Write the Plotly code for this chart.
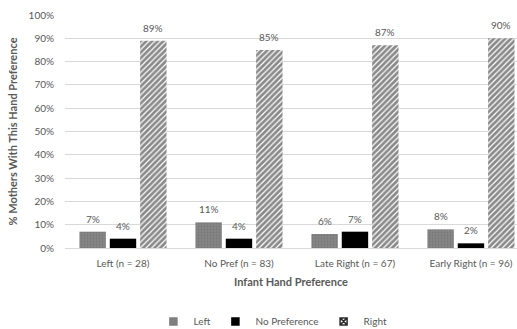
import plotly.graph_objects as go

# Infant hand preference groups (x categories)
categories = ["Left (n = 28)", "No Pref (n = 83)", "Late Right (n = 67)", "Early Right (n = 96)"]

# Percentage of mothers with each hand preference, per infant group
left_pct = [7, 11, 6, 8]
nopref_pct = [4, 4, 7, 2]
right_pct = [89, 85, 87, 90]

FONT = "Lato, 'Open Sans', sans-serif"
LABEL_GRAY = "#595959"

WIDTH, HEIGHT = 517, 329
MARGIN = dict(l=65, r=0, t=15, b=81)
X_RANGE = [-0.5, 3.397]
BARGAP, BARGROUPGAP = 0.215, 0.13

LEFT_MARKER = dict(color="#7f7f7f", line=dict(width=0),
                   pattern=dict(shape=".", size=3, solidity=0.3,
                                fgcolor="#6a6a6a", bgcolor="#858585"))
NOPREF_MARKER = dict(color="#000000", line=dict(width=0))
RIGHT_MARKER = dict(color="white", line=dict(width=0),
                    pattern=dict(shape="/", size=4, solidity=0.7,
                                 fgcolor="#141414", bgcolor="white"))

series = [("Left", left_pct, LEFT_MARKER),
          ("No Preference", nopref_pct, NOPREF_MARKER),
          ("Right", right_pct, RIGHT_MARKER)]

fig = go.Figure()
for name, vals, marker in series:
    fig.add_trace(go.Bar(name=name, x=categories, y=vals, marker=marker, showlegend=False))

# value labels floating above each bar; horizontal offset of each bar within its group
cat_px = (WIDTH - MARGIN["l"] - MARGIN["r"]) / (X_RANGE[1] - X_RANGE[0])
slot_px = cat_px * (1 - BARGAP) / len(series)
for i, (name, vals, _) in enumerate(series):
    dx = (i - (len(series) - 1) / 2) * slot_px
    for cat, v in zip(categories, vals):
        fig.add_annotation(x=cat, y=v, text=f"{v}%", showarrow=False,
                           xshift=dx, yshift=13, yanchor="middle",
                           font=dict(family=FONT, size=10, color=LABEL_GRAY))

# compact square legend keys
for name, col, sym in [("Left", "#7f7f7f", "square"),
                       ("No Preference", "#000000", "square"),
                       ("Right", "#2a2a2a", "square-x-open")]:
    fig.add_trace(go.Scatter(x=[None], y=[None], mode="markers", name=name,
                             marker=dict(symbol=sym, size=7, color=col,
                                         line=dict(width=1.5, color=col))))

fig.update_layout(
    width=WIDTH, height=HEIGHT,
    margin=dict(**MARGIN, autoexpand=False),
    paper_bgcolor="white", plot_bgcolor="white",
    barmode="group", bargap=BARGAP, bargroupgap=BARGROUPGAP,
    font=dict(family=FONT, size=10, color=LABEL_GRAY),
    showlegend=True,
    legend=dict(orientation="h", x=0.46, xanchor="center", y=-0.315, yanchor="middle",
                font=dict(family=FONT, size=10, color=LABEL_GRAY),
                itemwidth=30, tracegroupgap=0),
    xaxis=dict(
        range=X_RANGE, showgrid=False, zeroline=False, automargin=False,
        showline=False, ticks="", ticklabelstandoff=8,
        tickfont=dict(family=FONT, size=10, color=LABEL_GRAY),
        title=dict(text="<b>Infant Hand Preference</b>", standoff=10,
                   font=dict(family=FONT, size=11, color=LABEL_GRAY)),
    ),
    yaxis=dict(
        range=[0, 100], dtick=10, ticksuffix="%", automargin=False,
        showgrid=True, gridcolor="#d9d9d9", gridwidth=1,
        zeroline=True, zerolinecolor="#d9d9d9", zerolinewidth=1,
        showline=False, ticks="", ticklabelstandoff=10,
        tickfont=dict(family=FONT, size=10, color=LABEL_GRAY),
        title=dict(text="<b>% Mothers With This Hand Preference</b>", standoff=8,
                   font=dict(family=FONT, size=11, color=LABEL_GRAY)),
    ),
)

fig.write_html("out.html")
